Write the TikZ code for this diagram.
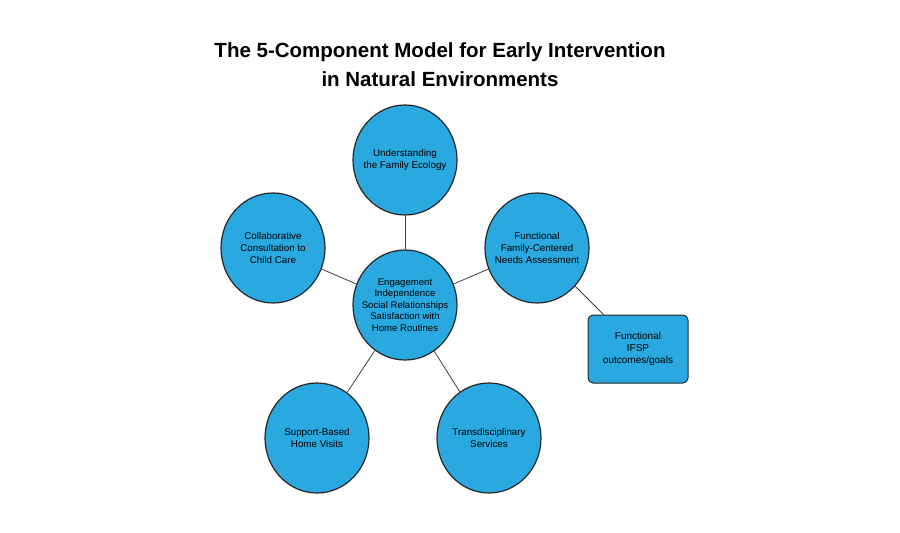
\documentclass[tikz,border=0pt]{standalone}
\usepackage{fontspec}
\setmainfont{Liberation Sans}
\usetikzlibrary{shapes.geometric}
\definecolor{cblue}{HTML}{29A9E0}
\tikzset{
 circ/.style={ellipse,draw=black!85,line width=1.2pt,fill=cblue,minimum width=104pt,minimum height=110pt,align=center,inner sep=-10pt,font=\fontsize{9.8}{11.8}\selectfont},
 rbox/.style={rectangle,rounded corners=5pt,draw=black!85,line width=1pt,fill=cblue,minimum width=100pt,minimum height=68pt,align=center,font=\fontsize{10}{12}\selectfont},
 conn/.style={draw=black!75,line width=0.8pt},
 ttl/.style={font=\fontsize{20.5}{24}\selectfont\bfseries}
}
\begin{document}
\begin{tikzpicture}[x=1pt,y=-1pt]
\useasboundingbox (0,0) rectangle (900,533);
\node[ttl] (t1) at (440,52) {The 5-Component Model for Early Intervention};
\node[ttl] (t2) at (440,79) {in Natural Environments};
\node[circ,font=\fontsize{9.6}{11.5}\selectfont] (c) at (405,305) {Engagement\\Independence\\Social Relationships\\Satisfaction with\\Home Routines};
\node[circ] (top) at (405,160) {Understanding\\the Family Ecology};
\node[circ] (l) at (273,248) {Collaborative\\Consultation to\\Child Care};
\node[circ] (r) at (537,248) {Functional\\Family-Centered\\Needs Assessment};
\node[circ] (bl) at (317,438) {Support-Based\\Home Visits};
\node[circ] (br) at (489,438) {Transdisciplinary\\Services};
\node[rbox] (f) at (638,349) {Functional\\IFSP\\outcomes/goals};
\draw[conn] (c) -- (top);
\draw[conn] (c) -- (l);
\draw[conn] (c) -- (r);
\draw[conn] (c) -- (bl);
\draw[conn] (c) -- (br);
\draw[conn] (r) -- (f);
\end{tikzpicture}
\end{document}
